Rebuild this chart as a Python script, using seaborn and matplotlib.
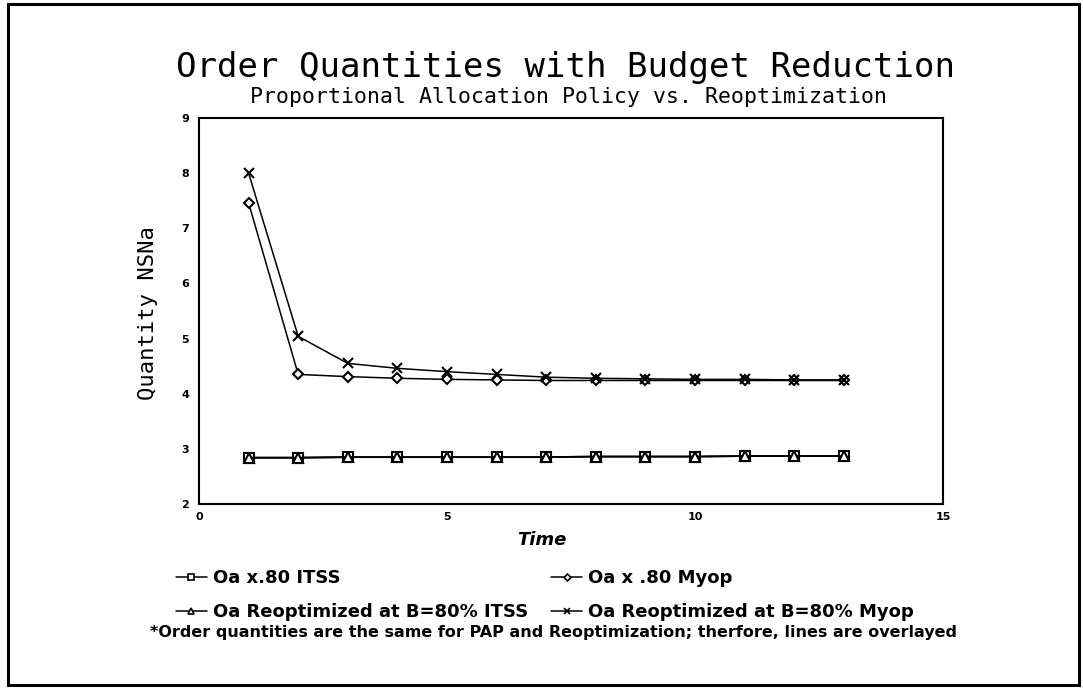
import matplotlib
matplotlib.use("Agg")
import matplotlib.pyplot as plt
import seaborn as sns
from matplotlib.patches import Rectangle
from matplotlib.lines import Line2D

# -----------------------------
# Data
# -----------------------------
time = [1, 2, 3, 4, 5, 6, 7, 8, 9, 10, 11, 12, 13]
pap_itss = [2.84, 2.84, 2.85, 2.85, 2.85, 2.85, 2.85, 2.86, 2.86, 2.86, 2.87, 2.87, 2.87]
pap_myop = [7.46, 4.35, 4.31, 4.28, 4.26, 4.25, 4.24, 4.24, 4.24, 4.24, 4.24, 4.24, 4.24]
reopt_itss = [2.84, 2.84, 2.85, 2.85, 2.85, 2.85, 2.85, 2.86, 2.86, 2.86, 2.87, 2.87, 2.87]
reopt_myop = [8.0, 5.04, 4.55, 4.46, 4.40, 4.35, 4.30, 4.28, 4.27, 4.26, 4.26, 4.25, 4.25]

labels = ["Oa x.80 ITSS", "Oa x .80 Myop",
          "Oa Reoptimized at B=80% ITSS", "Oa Reoptimized at B=80% Myop"]
markers = ["s", "D", "^", "x"]
series = [pap_itss, pap_myop, reopt_itss, reopt_myop]

x_ticks = [0, 5, 10, 15]
y_ticks = [2, 3, 4, 5, 6, 7, 8, 9]

sns.set_style("white")
plt.rcParams["font.family"] = ["DejaVu Sans"]
plt.rcParams["text.color"] = "black"

fig = plt.figure(figsize=(10.83, 6.89), dpi=100)
ax = fig.add_axes([199 / 1083, 1 - 504 / 689, 744 / 1083, 386 / 689])

handles = []
for vals, mk, lab in zip(series, markers, labels):
    ms = 6.5 if mk != "D" else 5
    lw = 1.3 if mk in ("s", "^") else 1.1
    sns.lineplot(x=time, y=vals, ax=ax, color="black", linewidth=lw,
                 marker=mk, markersize=ms, markerfacecolor="white",
                 markeredgecolor="black", markeredgewidth=1.5)
    handles.append(Line2D([0], [0], color="black", linewidth=1.1, marker=mk,
                          markersize=ms - 1.5, markerfacecolor="white",
                          markeredgecolor="black", markeredgewidth=1.2))

ax.set_xlim(0, 15)
ax.set_ylim(2, 9)
ax.set_xticks(x_ticks)
ax.set_yticks(y_ticks)
ax.tick_params(direction="in", length=8, width=1.3, colors="black",
               labelsize=8)
ax.tick_params(axis="y", pad=7)
ax.tick_params(axis="x", pad=6)
for lbl in ax.get_xticklabels() + ax.get_yticklabels():
    lbl.set_fontweight("bold")
for sp in ax.spines.values():
    sp.set_visible(True)
    sp.set_color("black")
    sp.set_linewidth(1.5)
ax.set_xlabel("")
ax.set_ylabel("")

# titles and axis labels
fig.text(566 / 1083, 1 - 68 / 689, "Order Quantities with Budget Reduction",
         ha="center", va="center", fontsize=24.5, family="DejaVu Sans Mono")
fig.text(569 / 1083, 1 - 97 / 689,
         "Proportional Allocation Policy vs. Reoptimization",
         ha="center", va="center", fontsize=15.5, family="DejaVu Sans Mono")
fig.text(148 / 1083, 1 - 313 / 689, "Quantity NSNa", rotation=90,
         ha="center", va="center", fontsize=16, family="DejaVu Sans Mono")
fig.text(542 / 1083, 1 - 540 / 689, "Time", ha="center", va="center",
         fontsize=13, style="italic", fontweight="bold")

# legend: two columns, two rows
order = [0, 2, 1, 3]
fig.legend([handles[i] for i in order], [labels[i] for i in order],
           ncol=2, loc="upper left", bbox_to_anchor=(176 / 1083, 1 - 569 / 689),
           frameon=False, handlelength=1.7, handletextpad=0.33,
           columnspacing=1.3, labelspacing=0.9, borderpad=0,
           borderaxespad=0, labelcolor="black",
           prop={"weight": "bold", "size": 13})

fig.text(553 / 1083, 1 - 633 / 689,
         "*Order quantities are the same for PAP and Reoptimization; therfore, lines are overlayed",
         ha="center", va="center", fontsize=11.5, fontweight="bold")

# outer frame round the whole figure
fig.patches.append(Rectangle((8 / 1083, 4 / 689), 1071 / 1083, 681 / 689,
                             transform=fig.transFigure, fill=False,
                             edgecolor="black", linewidth=2.2))

fig.savefig("out.png", dpi=100)
